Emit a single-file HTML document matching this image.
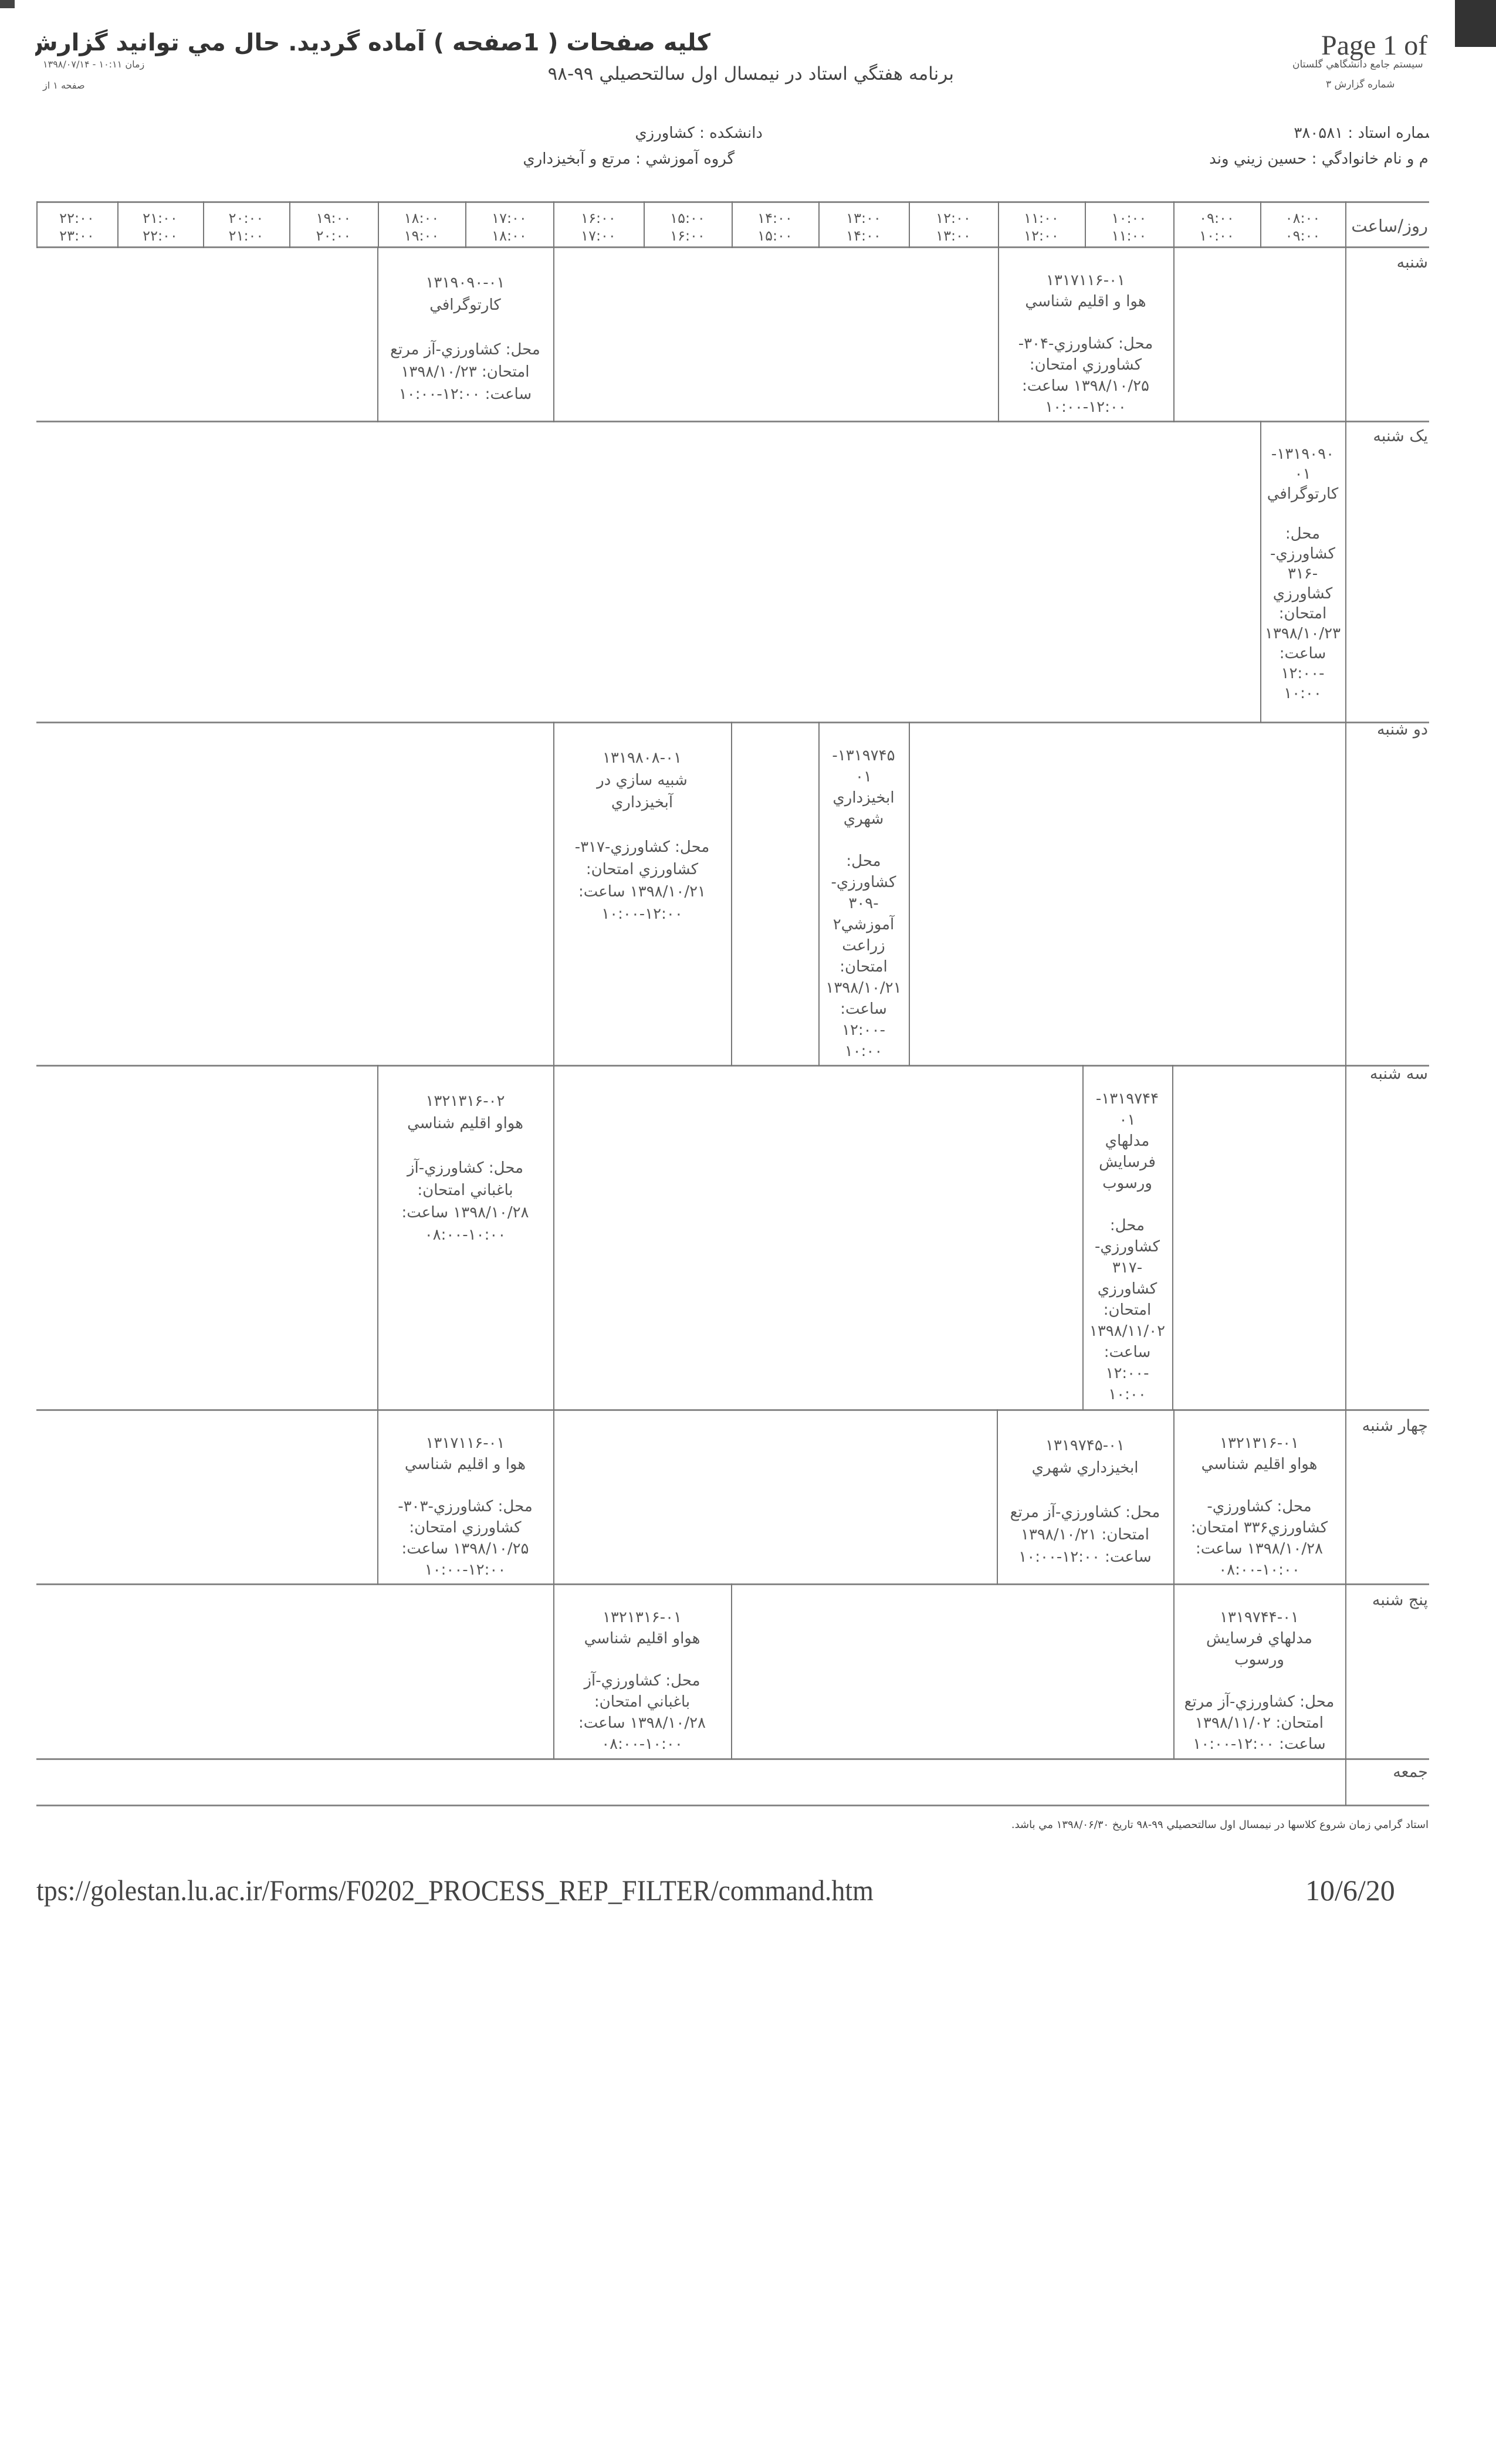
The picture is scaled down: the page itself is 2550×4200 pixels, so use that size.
<!DOCTYPE html>
<html><head><meta charset="utf-8">
<style>
html,body{margin:0;padding:0;background:#fff;}
body{width:2550px;height:4200px;position:relative;overflow:hidden;font-family:"DejaVu Sans","Liberation Sans",sans-serif;color:#555;}
.a{position:absolute;white-space:nowrap;}
.h{position:absolute;height:3px;background:#888;}
.v{position:absolute;width:2px;background:#777;}
.c{position:absolute;direction:rtl;text-align:center;font-size:26px;line-height:38px;padding-top:43px;box-sizing:border-box;color:#555;}
.c.tall{line-height:36px;padding-top:40px;}
.t{position:absolute;direction:rtl;text-align:center;font-size:24px;line-height:30px;color:#555;}
.d{position:absolute;direction:rtl;text-align:right;font-size:27px;color:#555;right:2px;white-space:nowrap;}
.clip{position:absolute;left:0;top:0;width:2436px;height:4200px;overflow:hidden;}
bdi{direction:ltr;unicode-bidi:isolate;}
</style></head><body>
<div style="position:absolute;left:2480px;top:0;width:70px;height:80px;background:#333"></div>
<div style="position:absolute;left:0;top:0;width:25px;height:14px;background:#444"></div>
<div class="clip">
<div class="a" style="left:60px;top:50px;font-size:40px;font-weight:bold;direction:rtl;color:#333;width:1151px;text-align:right;overflow:hidden">کليه صفحات ( 1صفحه ) آماده گرديد. حال مي توانيد گزارش را چاپ نما</div>
<div class="a" style="left:2252px;top:50px;font-family:'Liberation Serif',serif;font-size:48px;color:#444">Page 1 of</div>
<div class="a" style="left:73px;top:100px;font-size:16px;direction:rtl;color:#555">زمان ۱۰:۱۱ - ۱۳۹۸/۰۷/۱۴</div>
<div class="a" style="left:73px;top:136px;font-size:16px;direction:rtl;color:#555">صفحه ۱ از</div>
<div class="a" style="left:2203px;top:100px;font-size:17px;direction:rtl;color:#555">سيستم جامع دانشگاهي گلستان</div>
<div class="a" style="left:2260px;top:134px;font-size:17px;direction:rtl;color:#555">شماره گزارش ۳</div>
<div class="a" style="left:870px;top:108px;font-size:31px;direction:rtl;color:#444;width:756px;text-align:right">برنامه هفتگي استاد در نيمسال اول سالتحصيلي ۹۹-۹۸</div>
<div class="a" style="left:1016px;top:212px;font-size:26px;direction:rtl;color:#444;width:284px;text-align:right">دانشکده : کشاورزي</div>
<div class="a" style="left:837px;top:256px;font-size:26px;direction:rtl;color:#444;width:415px;text-align:right">گروه آموزشي : مرتع و آبخيزداري</div>
<div class="a" style="left:2150px;top:212px;font-size:26px;direction:rtl;color:#444;width:300px;text-align:right">شماره استاد : ۳۸۰۵۸۱</div>
<div class="a" style="left:2020px;top:256px;font-size:26px;direction:rtl;color:#444;width:430px;text-align:right">نام و نام خانوادگي : حسين زيني وند</div>

<div class="h" style="left:62px;width:2380px;top:343px"></div>
<div class="h" style="left:62px;width:2380px;top:420px"></div>
<div class="h" style="left:62px;width:2380px;top:717px"></div>
<div class="h" style="left:62px;width:2380px;top:1230px"></div>
<div class="h" style="left:62px;width:2380px;top:1815px"></div>
<div class="h" style="left:62px;width:2380px;top:2402px"></div>
<div class="h" style="left:62px;width:2380px;top:2699px"></div>
<div class="h" style="left:62px;width:2380px;top:2997px"></div>
<div class="h" style="left:62px;width:2380px;top:3076px"></div>

<div class="v" style="left:62px;top:343px;height:80px"></div>
<div class="v" style="left:200px;top:343px;height:80px"></div>
<div class="v" style="left:346px;top:343px;height:80px"></div>
<div class="v" style="left:493px;top:343px;height:80px"></div>
<div class="v" style="left:644px;top:343px;height:80px"></div>
<div class="v" style="left:793px;top:343px;height:80px"></div>
<div class="v" style="left:943px;top:343px;height:80px"></div>
<div class="v" style="left:1097px;top:343px;height:80px"></div>
<div class="v" style="left:1247px;top:343px;height:80px"></div>
<div class="v" style="left:1395px;top:343px;height:80px"></div>
<div class="v" style="left:1549px;top:343px;height:80px"></div>
<div class="v" style="left:1701px;top:343px;height:80px"></div>
<div class="v" style="left:1849px;top:343px;height:80px"></div>
<div class="v" style="left:2000px;top:343px;height:80px"></div>
<div class="v" style="left:2148px;top:343px;height:80px"></div>
<div class="v" style="left:2293px;top:343px;height:2735px"></div>

<div class="t" style="left:62px;width:138px;top:357px">۲۲:۰۰<br>۲۳:۰۰</div>
<div class="t" style="left:200px;width:146px;top:357px">۲۱:۰۰<br>۲۲:۰۰</div>
<div class="t" style="left:346px;width:147px;top:357px">۲۰:۰۰<br>۲۱:۰۰</div>
<div class="t" style="left:493px;width:151px;top:357px">۱۹:۰۰<br>۲۰:۰۰</div>
<div class="t" style="left:644px;width:149px;top:357px">۱۸:۰۰<br>۱۹:۰۰</div>
<div class="t" style="left:793px;width:150px;top:357px">۱۷:۰۰<br>۱۸:۰۰</div>
<div class="t" style="left:943px;width:154px;top:357px">۱۶:۰۰<br>۱۷:۰۰</div>
<div class="t" style="left:1097px;width:150px;top:357px">۱۵:۰۰<br>۱۶:۰۰</div>
<div class="t" style="left:1247px;width:148px;top:357px">۱۴:۰۰<br>۱۵:۰۰</div>
<div class="t" style="left:1395px;width:154px;top:357px">۱۳:۰۰<br>۱۴:۰۰</div>
<div class="t" style="left:1549px;width:152px;top:357px">۱۲:۰۰<br>۱۳:۰۰</div>
<div class="t" style="left:1701px;width:148px;top:357px">۱۱:۰۰<br>۱۲:۰۰</div>
<div class="t" style="left:1849px;width:151px;top:357px">۱۰:۰۰<br>۱۱:۰۰</div>
<div class="t" style="left:2000px;width:148px;top:357px">۰۹:۰۰<br>۱۰:۰۰</div>
<div class="t" style="left:2148px;width:145px;top:357px">۰۸:۰۰<br>۰۹:۰۰</div>
<div class="d" style="top:368px;font-size:29px">روز/ساعت</div>

<div class="d" style="top:432px">شنبه</div>
<div class="d" style="top:728px">يک شنبه</div>
<div class="d" style="top:1228px">دو شنبه</div>
<div class="d" style="top:1815px">سه شنبه</div>
<div class="d" style="top:2415px">چهار شنبه</div>
<div class="d" style="top:2712px">پنج شنبه</div>
<div class="d" style="top:3005px">جمعه</div>

<div class="v" style="left:643px;top:420px;height:300px"></div>
<div class="v" style="left:943px;top:420px;height:300px"></div>
<div class="v" style="left:1701px;top:420px;height:300px"></div>
<div class="v" style="left:2000px;top:420px;height:300px"></div>
<div class="c" style="left:643px;width:300px;top:420px">۱۳۱۹۰۹۰-۰۱<br>کارتوگرافي<br><br>محل: کشاورزي-آز مرتع<br>امتحان: ۱۳۹۸/۱۰/۲۳<br>ساعت: <bdi>۱۰:۰۰-۱۲:۰۰</bdi></div>
<div class="c" style="left:1701px;width:299px;top:420px;padding-top:40px;line-height:36px">۱۳۱۷۱۱۶-۰۱<br>هوا و اقليم شناسي<br><br>محل: کشاورزي-۳۰۴-<br>کشاورزي امتحان:<br>۱۳۹۸/۱۰/۲۵ ساعت:<br><bdi>۱۰:۰۰-۱۲:۰۰</bdi></div>

<div class="v" style="left:2148px;top:717px;height:515px"></div>
<div class="c tall" style="left:2148px;width:145px;top:717px;line-height:34px;padding-top:40px">۱۳۱۹۰۹۰-<br>۰۱<br>کارتوگرافي<br><br>محل:<br>کشاورزي-<br>-۳۱۶<br>کشاورزي<br>امتحان:<br>۱۳۹۸/۱۰/۲۳<br>ساعت:<br>-۱۲:۰۰<br>۱۰:۰۰</div>

<div class="v" style="left:943px;top:1230px;height:587px"></div>
<div class="v" style="left:1246px;top:1230px;height:587px"></div>
<div class="v" style="left:1395px;top:1230px;height:587px"></div>
<div class="v" style="left:1549px;top:1230px;height:587px"></div>
<div class="c" style="left:943px;width:303px;top:1230px">۱۳۱۹۸۰۸-۰۱<br>شبيه سازي در<br>آبخيزداري<br><br>محل: کشاورزي-۳۱۷-<br>کشاورزي امتحان:<br>۱۳۹۸/۱۰/۲۱ ساعت:<br><bdi>۱۰:۰۰-۱۲:۰۰</bdi></div>
<div class="c tall" style="left:1395px;width:154px;top:1230px">۱۳۱۹۷۴۵-<br>۰۱<br>ابخيزداري<br>شهري<br><br>محل:<br>کشاورزي-<br>-۳۰۹<br>آموزشي۲<br>زراعت<br>امتحان:<br>۱۳۹۸/۱۰/۲۱<br>ساعت:<br>-۱۲:۰۰<br>۱۰:۰۰</div>

<div class="v" style="left:643px;top:1815px;height:589px"></div>
<div class="v" style="left:943px;top:1815px;height:589px"></div>
<div class="v" style="left:1845px;top:1815px;height:589px"></div>
<div class="v" style="left:1998px;top:1815px;height:589px"></div>
<div class="c" style="left:643px;width:300px;top:1815px">۱۳۲۱۳۱۶-۰۲<br>هواو اقليم شناسي<br><br>محل: کشاورزي-آز<br>باغباني امتحان:<br>۱۳۹۸/۱۰/۲۸ ساعت:<br><bdi>۰۸:۰۰-۱۰:۰۰</bdi></div>
<div class="c tall" style="left:1845px;width:153px;top:1815px">۱۳۱۹۷۴۴-<br>۰۱<br>مدلهاي<br>فرسايش<br>ورسوب<br><br>محل:<br>کشاورزي-<br>-۳۱۷<br>کشاورزي<br>امتحان:<br>۱۳۹۸/۱۱/۰۲<br>ساعت:<br>-۱۲:۰۰<br>۱۰:۰۰</div>

<div class="v" style="left:643px;top:2402px;height:299px"></div>
<div class="v" style="left:943px;top:2402px;height:299px"></div>
<div class="v" style="left:1699px;top:2402px;height:299px"></div>
<div class="v" style="left:2000px;top:2402px;height:299px"></div>
<div class="c" style="left:643px;width:300px;top:2402px;padding-top:40px;line-height:36px">۱۳۱۷۱۱۶-۰۱<br>هوا و اقليم شناسي<br><br>محل: کشاورزي-۳۰۳-<br>کشاورزي امتحان:<br>۱۳۹۸/۱۰/۲۵ ساعت:<br><bdi>۱۰:۰۰-۱۲:۰۰</bdi></div>
<div class="c" style="left:1699px;width:301px;top:2402px">۱۳۱۹۷۴۵-۰۱<br>ابخيزداري شهري<br><br>محل: کشاورزي-آز مرتع<br>امتحان: ۱۳۹۸/۱۰/۲۱<br>ساعت: <bdi>۱۰:۰۰-۱۲:۰۰</bdi></div>
<div class="c" style="left:2000px;width:293px;top:2402px;padding-top:40px;line-height:36px">۱۳۲۱۳۱۶-۰۱<br>هواو اقليم شناسي<br><br>محل: کشاورزي-<br>کشاورزي۳۳۶ امتحان:<br>۱۳۹۸/۱۰/۲۸ ساعت:<br><bdi>۰۸:۰۰-۱۰:۰۰</bdi></div>

<div class="v" style="left:943px;top:2699px;height:300px"></div>
<div class="v" style="left:1246px;top:2699px;height:300px"></div>
<div class="v" style="left:2000px;top:2699px;height:300px"></div>
<div class="c" style="left:943px;width:303px;top:2699px;padding-top:40px;line-height:36px">۱۳۲۱۳۱۶-۰۱<br>هواو اقليم شناسي<br><br>محل: کشاورزي-آز<br>باغباني امتحان:<br>۱۳۹۸/۱۰/۲۸ ساعت:<br><bdi>۰۸:۰۰-۱۰:۰۰</bdi></div>
<div class="c" style="left:2000px;width:293px;top:2699px;padding-top:40px;line-height:36px">۱۳۱۹۷۴۴-۰۱<br>مدلهاي فرسايش<br>ورسوب<br><br>محل: کشاورزي-آز مرتع<br>امتحان: ۱۳۹۸/۱۱/۰۲<br>ساعت: <bdi>۱۰:۰۰-۱۲:۰۰</bdi></div>

<div class="a" style="left:1569px;top:3100px;width:866px;font-size:18px;direction:rtl;color:#444;text-align:right;overflow:hidden">استاد گرامي زمان شروع کلاسها در نيمسال اول سالتحصيلي ۹۹-۹۸ تاريخ ۱۳۹۸/۰۶/۳۰ مي باشد.</div>
<div class="a" style="left:62px;top:3193px;font-family:'Liberation Serif',serif;font-size:50px;color:#444;transform-origin:0 0;transform:scaleX(0.92)">tps://golestan.lu.ac.ir/Forms/F0202_PROCESS_REP_FILTER/command.htm</div>
<div class="a" style="left:2225px;top:3193px;font-family:'Liberation Serif',serif;font-size:50px;color:#444">10/6/20</div>
</div>
</body></html>
